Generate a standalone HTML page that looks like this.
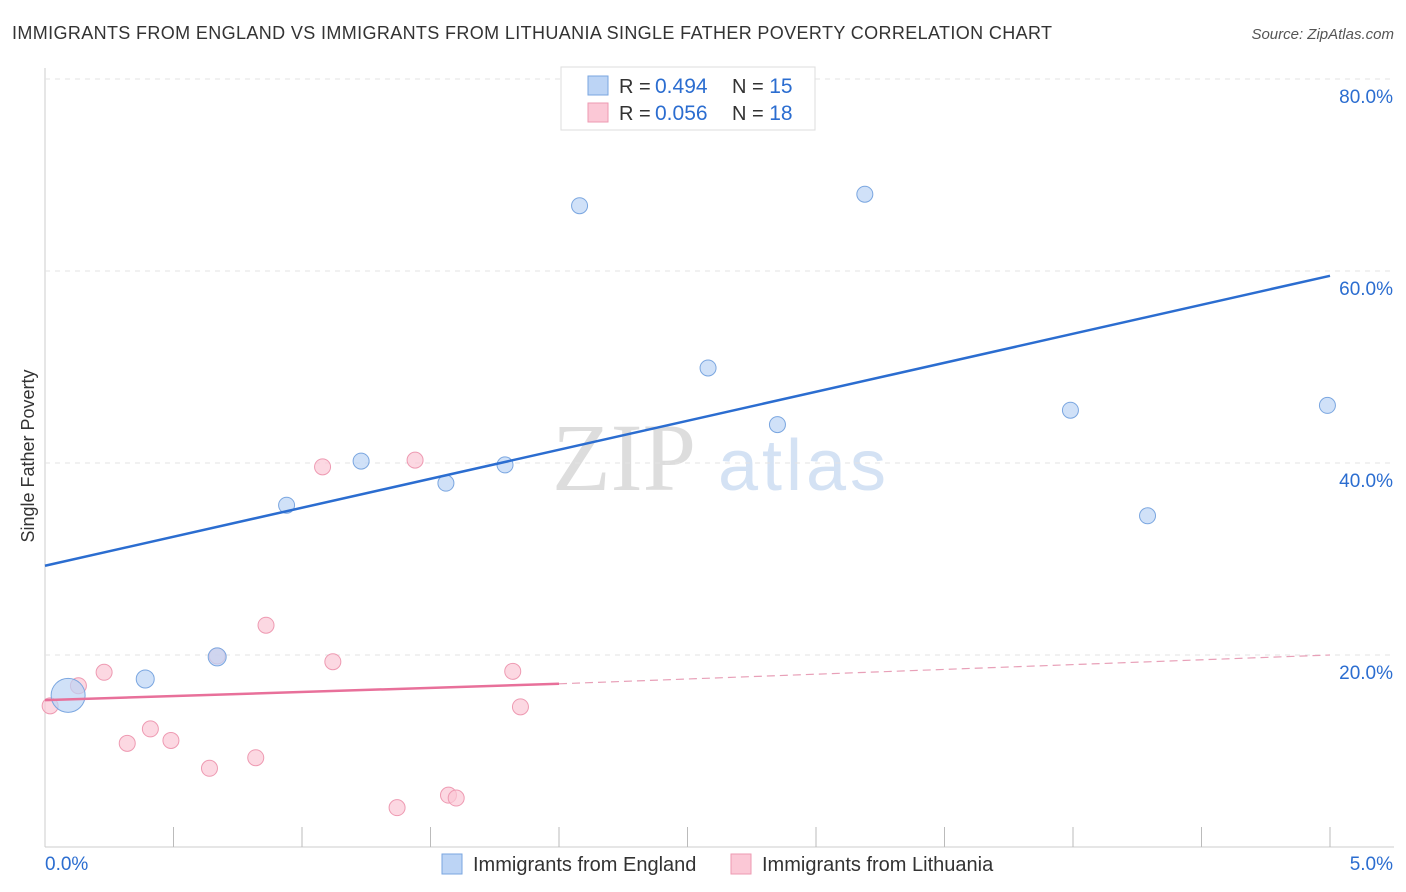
<!DOCTYPE html>
<html><head><meta charset="utf-8"><style>
body{margin:0;background:#fff;font-family:"Liberation Sans",sans-serif;}
svg{display:block}
</style></head><body>
<svg id="c" width="1406" height="892">
<text x="12" y="39" font-size="18" fill="#333" textLength="1040">IMMIGRANTS FROM ENGLAND VS IMMIGRANTS FROM LITHUANIA SINGLE FATHER POVERTY CORRELATION CHART</text>
<text x="1394" y="39" font-size="15" fill="#555" font-style="italic" text-anchor="end">Source: ZipAtlas.com</text>
<text x="34" y="456" font-size="18" fill="#333" text-anchor="middle" transform="rotate(-90 34 456)">Single Father Poverty</text>
<text x="552" y="490" font-size="96" fill="#ddd" font-family="Liberation Serif,serif">ZIP</text>
<text x="718" y="490" font-size="72" fill="#d4e2f4" textLength="168">atlas</text>
<g id="grid"></g><g id="marks"></g>
<g>
<rect x="561" y="67" width="254" height="63" fill="#fff" stroke="#ddd"/>
<rect x="588" y="76" width="20" height="19" fill="#bcd4f5" stroke="#7aa6e0"/>
<rect x="588" y="103" width="20" height="19" fill="#fbc8d6" stroke="#ee9ab2"/>
<text x="619" y="93" font-size="20" fill="#333">R = <tspan x="655" fill="#2b6dd0" font-size="21">0.494</tspan><tspan x="732">N = </tspan><tspan fill="#2b6dd0" font-size="21">15</tspan></text>
<text x="619" y="120" font-size="20" fill="#333">R = <tspan x="655" fill="#2b6dd0" font-size="21">0.056</tspan><tspan x="732">N = </tspan><tspan fill="#2b6dd0" font-size="21">18</tspan></text>
</g>
<g>
<rect x="442" y="854" width="20" height="20" fill="#bcd4f5" stroke="#7aa6e0"/>
<text x="473" y="871" font-size="20" fill="#333">Immigrants from England</text>
<rect x="731" y="854" width="20" height="20" fill="#fbc8d6" stroke="#ee9ab2"/>
<text x="762" y="871" font-size="20" fill="#333">Immigrants from Lithuania</text>
</g>
</svg>
<script>
const yTicks=[20,40,60,80];
const xTickLabels=["0.0%","5.0%"];
const englandX=[0.09,0.39,0.67,0.94,1.23,1.56,1.79,2.08,2.38,2.58,2.85,3.19,3.99,4.29,4.99];
const englandY=[15.8,17.5,19.8,35.6,40.2,37.9,39.8,66.8,77.2,49.9,44.0,68.0,45.5,34.5,46.0];
const englandR=[17,9,9,8,8,8,8,8,8,8,8,8,8,8,8];
const lithX=[0.02,0.13,0.23,0.32,0.41,0.49,0.64,0.67,0.82,0.86,1.08,1.12,1.37,1.44,1.57,1.6,1.82,1.85];
const lithY=[14.7,16.8,18.2,10.8,12.3,11.1,8.2,19.9,9.3,23.1,39.6,19.3,4.1,40.3,5.4,5.1,18.3,14.6];
const trendEngland=[29.3,59.5];
const trendLith=[15.3,17.0,20.0];
const X=v=>45+v*257, Y=v=>847-v*9.6;
const ns="http://www.w3.org/2000/svg";
function mk(t,a,p){const e=document.createElementNS(ns,t);for(const k in a)e.setAttribute(k,a[k]);p.appendChild(e);return e;}
const g=document.getElementById('grid'),m=document.getElementById('marks');
mk('line',{x1:45,y1:68,x2:45,y2:847,stroke:'#ccc'},g);
mk('line',{x1:45,y1:847,x2:1394,y2:847,stroke:'#ccc'},g);
yTicks.forEach(t=>{
 const l=mk('line',{x1:45,y1:Y(t),x2:1394,y2:Y(t),stroke:'#e3e3e3','stroke-dasharray':'5,5'},g);
 
 
 const tx=mk('text',{x:1393,y:Y(t)+24,'font-size':19,fill:'#2b6dd0','text-anchor':'end'},g);tx.textContent=t.toFixed(1)+'%';
 
 
});
for(let i=1;i<=10;i++){const x=X(i*0.5);mk('line',{x1:x,y1:827,x2:x,y2:847,stroke:'#bbb'},g);}
xTickLabels.forEach((s,i)=>{const t=mk('text',{x:i?1393:45,y:870,'font-size':19,fill:'#2b6dd0','text-anchor':i?'end':'start'},g);t.textContent=s;
 
 });
lithX.forEach((v,i)=>{const c=mk('circle',{cx:X(v),cy:Y(lithY[i]),r:8,fill:'#fbc8d6','fill-opacity':0.7,stroke:'#ee9ab2'},m);
 
 });
englandX.forEach((v,i)=>{const c=mk('circle',{cx:X(v),cy:Y(englandY[i]),r:englandR[i],fill:'#bcd4f5','fill-opacity':0.7,stroke:'#7aa6e0'},m);
 
 });
const tb=mk('line',{x1:X(0),y1:Y(trendEngland[0]),x2:X(5),y2:Y(trendEngland[1]),stroke:'#2b6dd0','stroke-width':2.5},m);


const tp=mk('line',{x1:X(0),y1:Y(trendLith[0]),x2:X(2),y2:Y(trendLith[1]),stroke:'#e8709a','stroke-width':2.5},m);


const td=mk('line',{x1:X(2),y1:Y(trendLith[1]),x2:X(5),y2:Y(trendLith[2]),stroke:'#e8a0b8','stroke-width':1.2,'stroke-dasharray':'8,5'},m);


</script>
</body></html>
